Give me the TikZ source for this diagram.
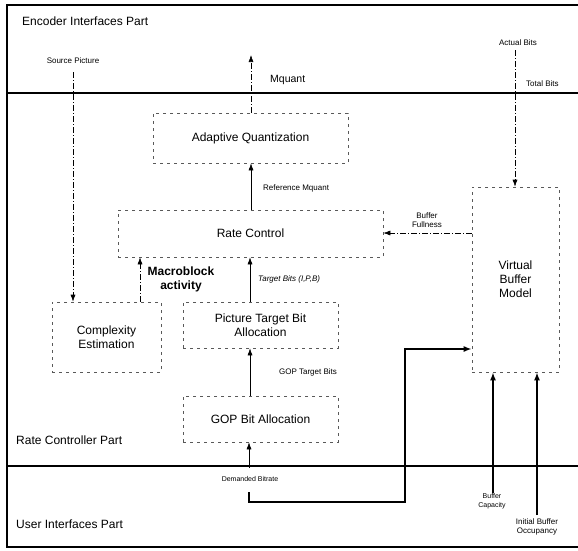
\documentclass[tikz,border=0pt]{standalone}
\usepackage{fontspec}
\setmainfont{Liberation Sans}
\usetikzlibrary{arrows.meta}
\begin{document}
\begin{tikzpicture}[x=1pt,y=-1pt,
  frame/.style={line width=1.6pt, line cap=rect},
  blk/.style={draw=black!65, line width=0.6pt, dash pattern=on 3pt off 4pt, inner sep=0pt, align=center, font=\fontsize{12}{14}\selectfont},
  arr/.style={line width=0.6pt, -{Latex[length=7pt,width=5pt]}},
  darr/.style={arr, dash pattern=on 6pt off 2pt on 1pt off 2pt},
  barr/.style={line width=1.8pt, -{Latex[length=8pt,width=6pt]}},
  lbl/.style={inner sep=0pt, font=\fontsize{8}{9.5}\selectfont, align=center},
  slbl/.style={inner sep=0pt, font=\fontsize{7}{8.5}\selectfont, align=center},
  part/.style={inner sep=0pt, anchor=west, font=\fontsize{12}{14}\selectfont}]
\useasboundingbox (0,0) rectangle (578,550);
% frame
\draw[frame] (578,5) -- (7,5) -- (7,547) -- (578,547);
\draw[frame] (7,93) -- (578,93);
\draw[frame] (7,466) -- (578,466);
% part labels
\node[part] (pEnc) at (22,21) {Encoder Interfaces Part};
\node[part] (pRate) at (16,440) {Rate Controller Part};
\node[part] (pUser) at (16,524) {User Interfaces Part};
% blocks
\node[blk, minimum width=195pt, minimum height=50pt] (aq) at (250.5,138) {Adaptive Quantization};
\node[blk, minimum width=265pt, minimum height=47pt] (rc) at (250.5,233.5) {Rate Control};
\node[blk, minimum width=109pt, minimum height=70pt] (ce) at (106.5,337) {Complexity\\Estimation};
\node[blk, minimum width=155pt, minimum height=46pt] (ptba) at (260.5,325) {Picture Target Bit\\Allocation};
\node[blk, minimum width=155pt, minimum height=46pt] (gop) at (260.5,419) {GOP Bit Allocation};
\node[blk, minimum width=87pt, minimum height=185pt] (vbm) at (515.5,279.5) {Virtual\\Buffer\\Model};
% helper x positions
\coordinate (xq) at (251,0);
\coordinate (xt) at (250,0);
\coordinate (xm) at (140,0);
\coordinate (xbc) at (493,0);
\coordinate (xib) at (537,0);
\coordinate (ybf) at (0,233);
\coordinate (ydb) at (0,349);
% free ends
\coordinate (mqEnd) at (251,55);
\coordinate (spStart) at (73,72);
\coordinate (abStart) at (515,50);
\coordinate (dbStart) at (249,468);
\coordinate (dbA) at (249,492);
\coordinate (dbB) at (249,502);
\coordinate (dbC) at (405,502);
\coordinate (dbD) at (405,349);
\coordinate (bcStart) at (493,493);
\coordinate (ibStart) at (537,515);
% connectors
\draw[darr] (aq.north -| xq) -- (mqEnd);
\draw[arr] (rc.north -| xq) -- (aq.south -| xq);
\draw[arr] (ptba.north -| xt) -- (rc.south -| xt);
\draw[darr] (ce.north -| xm) -- (rc.south -| xm);
\draw[arr] (gop.north -| xt) -- (ptba.south -| xt);
\draw[arr] (dbStart) -- (gop.south -| dbStart);
\draw[darr] (spStart) -- (ce.north -| spStart);
\draw[darr] (abStart) -- (vbm.north -| abStart);
\draw[darr] (vbm.west |- ybf) -- (rc.east |- ybf);
\draw[barr] (dbA) -- (dbB) -- (dbC) -- (dbD) -- (vbm.west |- ydb);
\draw[barr] (bcStart) -- (vbm.south -| xbc);
\draw[barr] (ibStart) -- (vbm.south -| xib);
% labels
\node[lbl] (lSP) at (73,61) {Source Picture};
\node[lbl, anchor=west, font=\fontsize{10.5}{12}\selectfont] (lMq) at (270,80) {Mquant};
\node[lbl] (lAB) at (518,43) {Actual Bits};
\node[lbl, anchor=west] (lTB) at (526,84) {Total Bits};
\node[lbl, anchor=west] (lRM) at (263,188) {Reference Mquant};
\node[lbl] (lBF) at (427,220) {Buffer\\Fullness};
\node[lbl, anchor=west, font=\fontsize{8}{9.5}\selectfont\itshape] (lTg) at (258,279) {Target Bits (I,P,B)};
\node[inner sep=0pt, align=center, font=\fontsize{12}{14}\selectfont\bfseries] (lMB) at (181,279) {Macroblock\\activity};
\node[lbl] (lGT) at (308,372) {GOP Target Bits};
\node[slbl] (lDB) at (250,479) {Demanded Bitrate};
\node[slbl] (lBC) at (492,501) {Buffer\\Capacity};
\node[lbl] (lIB) at (537,527) {Initial Buffer\\Occupancy};
\end{tikzpicture}
\end{document}
